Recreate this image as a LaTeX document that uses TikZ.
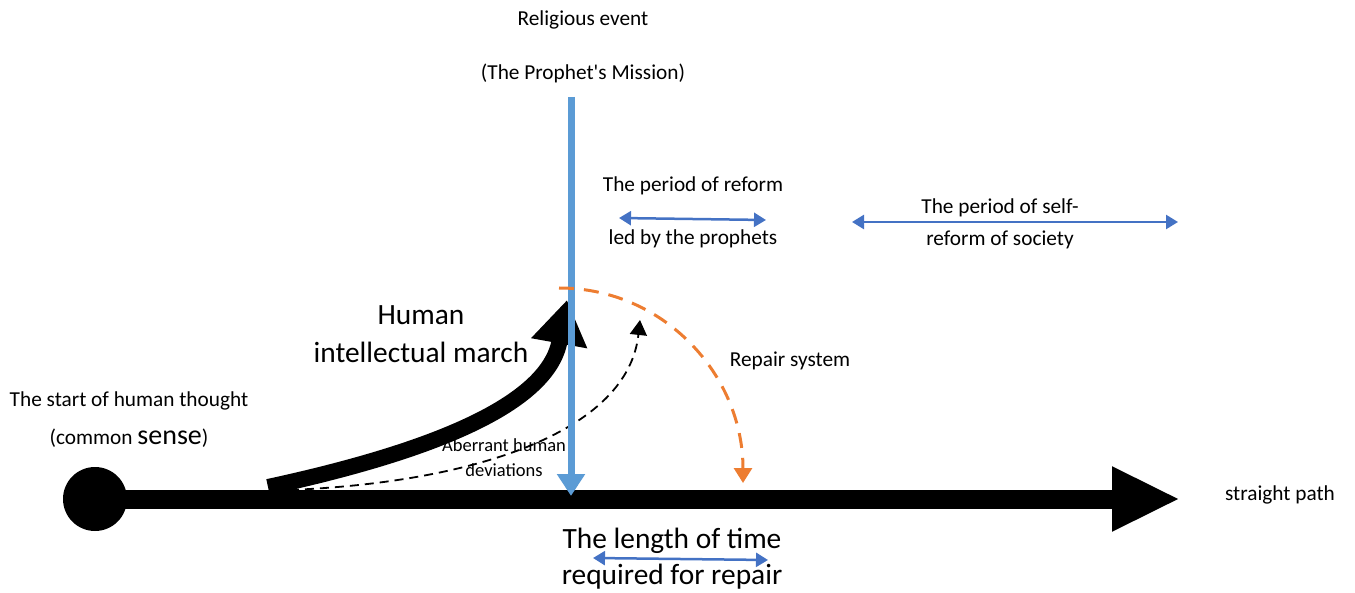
\documentclass[tikz,border=0pt]{standalone}
\usepackage{fontspec}
\setmainfont{Carlito}
\usetikzlibrary{arrows.meta}

\definecolor{eventblue}{RGB}{91,155,213}
\definecolor{spanblue}{RGB}{68,114,196}
\definecolor{repairorange}{RGB}{237,125,49}

\tikzset{
  label/.style={inner sep=0pt, align=center, font=\fontsize{21.3}{26}\selectfont},
  biglabel/.style={inner sep=0pt, align=center, font=\fontsize{29.4}{36}\selectfont},
  smalllabel/.style={inner sep=0pt, align=center, font=\fontsize{18.5}{25}\selectfont},
  mainbar/.style={line width=19pt, -{Triangle[length=68pt,width=60pt]}},
  march/.style={line width=16pt, -{Triangle[length=44pt,width=54pt]}},
  eventline/.style={eventblue, line width=7pt, -{Triangle[length=22pt,width=27pt]}},
  span/.style={spanblue, line width=2.5pt, {Triangle[length=12pt,width=14pt]}-{Triangle[length=12pt,width=14pt]}},
  repair/.style={repairorange, line width=3pt, dash pattern=on 15pt off 10pt, -{Triangle[length=15pt,width=18pt]}},
  deviation/.style={line width=1.8pt, dash pattern=on 9pt off 6pt, -{Triangle[length=15pt,width=17pt]}},
}

\begin{document}
\begin{tikzpicture}[x=1pt,y=-1pt]
\useasboundingbox (0,0) rectangle (1355,593);

% straight path with its starting point
\node[circle, fill=black, minimum size=64pt, inner sep=0pt] (start) at (95,499) {};
\coordinate (pathend) at (1180,499);
\draw[mainbar] (start.center) -- (pathend);

% human intellectual march
\coordinate (marchstart) at (268,487);
\coordinate (marchtip) at (567,300);
\draw[march] (marchstart) .. controls (430,452) and (548,405) .. (marchtip);

% aberrant deviations
\coordinate (devstart) at (290,490);
\coordinate (devtip) at (640,320);
\draw[deviation] (devstart) .. controls (480,482) and (628,430) .. (devtip);

% religious event
\coordinate (eventtop) at (571,97);
\coordinate (eventfoot) at (571,496);
\draw[eventline] (eventtop) -- (eventfoot);

% repair system arc
\coordinate (repairstart) at (559,288);
\coordinate (repairtip) at (743,483);
\draw[repair] (repairstart) .. controls (664,288) and (743,375) .. (repairtip);

% periods
\coordinate (pa) at (619,218);
\coordinate (pb) at (766,220);
\draw[span] (pa) -- (pb);
\coordinate (sa) at (852,222);
\coordinate (sb) at (1178,222);
\draw[span] (sa) -- (sb);
\coordinate (ra) at (593,558);
\coordinate (rb) at (768,560);
\draw[span] (ra) -- (rb);

% labels
\node[label] (event1) at (583,20) {Religious event};
\node[label] (event2) at (583,73) {(The Prophet\textquotesingle s Mission)};
\node[label] (reform1) at (693,186) {The period of reform};
\node[label] (reform2) at (693,239) {led by the prophets};
\node[label] (self1) at (1000,208) {The period of self-};
\node[label] (self2) at (1000,240) {reform of society};
\node[biglabel] (human1) at (421,315) {Human};
\node[biglabel] (human2) at (421,352) {intellectual march};
\node[label] (repairlbl) at (790,361) {Repair system};
\node[label] (thought1) at (129,401) {The start of human thought};
\node[label, anchor=base] (thought2) at (129,445) {(common {\fontsize{28}{32}\selectfont sense})};
\node[smalllabel] (dev1) at (504,445) {Aberrant human};
\node[smalllabel] (dev2) at (504,470) {deviations};
\node[label] (straight) at (1280,495) {straight path};
\node[biglabel] (length1) at (672,541) {The length of time};
\node[biglabel] (length2) at (672,577) {required for repair};
\end{tikzpicture}
\end{document}
